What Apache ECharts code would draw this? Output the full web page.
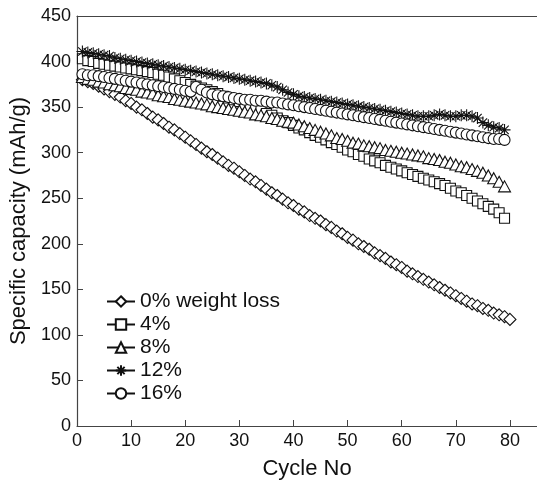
<!DOCTYPE html>
<html>
<head>
<meta charset="utf-8">
<script src="https://cdn.jsdelivr.net/npm/echarts@6/dist/echarts.min.js"></script>
<style>
  html, body { margin: 0; padding: 0; background: #fff; }
  #chart { width: 537px; height: 485px; }
</style>
</head>
<body>
<div id="chart"></div>
<script>
// cycle numbers
var cycles = [1, 2, 3, 4, 5, 6, 7, 8, 9, 10,
    11, 12, 13, 14, 15, 16, 17, 18, 19, 20,
    21, 22, 23, 24, 25, 26, 27, 28, 29, 30,
    31, 32, 33, 34, 35, 36, 37, 38, 39, 40,
    41, 42, 43, 44, 45, 46, 47, 48, 49, 50,
    51, 52, 53, 54, 55, 56, 57, 58, 59, 60,
    61, 62, 63, 64, 65, 66, 67, 68, 69, 70,
    71, 72, 73, 74, 75, 76, 77, 78, 79, 80];

// specific capacity (mAh/g)
var loss0 = [380, 378, 376, 373, 370, 367, 364, 361, 357, 354,
    350, 347, 343, 339, 336, 332, 328, 325, 321, 317,
    313, 309, 305, 301, 298, 294, 290, 286, 283, 279,
    275, 271, 268, 264, 260, 256, 253, 249, 245, 242,
    238, 235, 231, 228, 225, 221, 218, 214, 211, 207,
    204, 200, 197, 194, 190, 187, 184, 180, 177, 174,
    170, 167, 164, 161, 158, 155, 152, 149, 146, 143,
    140, 137, 134, 132, 129, 127, 124, 122, 120, 117];
var loss4 = [403, 401, 400, 398, 397, 396, 395, 394, 393, 392,
    391, 390, 389, 388, 386, 385, 383, 381, 379, 377,
    375, 373, 371, 369, 367, 365, 362, 360, 358, 356,
    353, 351, 349, 346, 343, 341, 338, 335, 333, 330,
    327, 325, 322, 319, 317, 314, 311, 309, 306, 303,
    301, 298, 296, 293, 291, 289, 286, 284, 282, 280,
    278, 276, 274, 272, 270, 268, 266, 264, 261, 258,
    256, 253, 250, 247, 244, 241, 238, 234, 228];
var loss8 = [383, 381, 380, 378, 377, 375, 374, 373, 371, 370,
    369, 367, 366, 365, 363, 362, 361, 359, 358, 357,
    356, 355, 354, 353, 351, 350, 349, 348, 347, 346,
    345, 344, 342, 341, 340, 338, 337, 335, 334, 333,
    331, 329, 327, 325, 323, 321, 319, 316, 315, 313,
    311, 310, 308, 307, 306, 305, 303, 302, 301, 300,
    299, 298, 297, 296, 294, 293, 292, 290, 289, 287,
    285, 284, 282, 280, 278, 275, 272, 268, 263];
var loss12 = [411, 410, 409, 408, 407, 406, 404, 403, 402, 401,
    400, 399, 398, 397, 396, 395, 394, 393, 392, 391,
    390, 389, 388, 387, 386, 385, 384, 383, 382, 381,
    380, 379, 378, 377, 376, 374, 372, 369, 366, 364,
    362, 361, 360, 359, 358, 357, 356, 355, 354, 353,
    352, 351, 350, 349, 348, 347, 346, 345, 344, 343,
    342, 341, 340, 340, 340, 341, 342, 341, 340, 340,
    341, 341, 340, 338, 333, 330, 328, 327, 325];
var loss16 = [386, 385, 385, 384, 383, 382, 381, 380, 379, 378,
    377, 376, 375, 374, 373, 372, 371, 370, 369, 368,
    367, 372, 369, 366, 364, 363, 362, 361, 360, 359,
    358, 358, 357, 357, 356, 355, 355, 354, 353, 352,
    351, 350, 349, 348, 347, 346, 345, 344, 343, 342,
    341, 340, 339, 338, 337, 336, 335, 334, 333, 332,
    331, 330, 329, 328, 327, 326, 325, 324, 323, 322,
    321, 320, 319, 318, 317, 316, 315, 315, 314];

var names = ['0% weight loss', '4%', '8%', '12%', '16%'];
var xTicks = [0, 10, 20, 30, 40, 50, 60, 70, 80];
var yTicks = [0, 50, 100, 150, 200, 250, 300, 350, 400, 450];

var FONT = 'Liberation Sans, Arial, Helvetica, sans-serif';
var asterisk = 'path://M0,5L10,5M5,0L5,10M1.5,1.5L8.5,8.5M8.5,1.5L1.5,8.5';

function pairs(vals) {
    var out = [];
    for (var i = 0; i < vals.length; i++) {
        out.push([cycles[i], vals[i]]);
    }
    return out;
}

function mkSeries(name, vals, symbol, size) {
    return {
        name: name,
        type: 'line',
        data: pairs(vals),
        symbol: symbol,
        symbolSize: size,
        showAllSymbol: true,
        lineStyle: { color: '#111', width: 1 },
        itemStyle: { color: '#fff', borderColor: '#111', borderWidth: 1.1 },
        emphasis: { disabled: true }
    };
}

var myChart = echarts.init(document.getElementById('chart'), null, { renderer: 'canvas' });
myChart.setOption({
    animation: false,
    backgroundColor: '#fff',
    textStyle: { fontFamily: FONT },
    grid: { left: 77, right: -4, top: 16, bottom: 54, containLabel: false },
    legend: {
        orient: 'vertical',
        left: 101,
        top: 285,
        itemWidth: 28,
        itemHeight: 13,
        itemGap: 0,
        textStyle: { fontFamily: FONT, fontSize: 21, lineHeight: 23, color: '#111' },
        data: names
    },
    xAxis: [{
        type: 'value',
        min: 0,
        max: 85,
        interval: 10,
        name: 'Cycle No',
        nameLocation: 'middle',
        nameGap: 32,
        nameTextStyle: { fontFamily: FONT, fontSize: 22, color: '#111' },
        axisLine: { show: true, lineStyle: { color: '#444', width: 1.2 } },
        axisTick: { show: true, inside: true, length: 6, lineStyle: { color: '#444' } },
        axisLabel: {
            fontFamily: FONT, fontSize: 18, color: '#111', margin: 6,
            showMaxLabel: false,
            formatter: function (v) { return xTicks.indexOf(v) >= 0 ? String(v) : ''; }
        },
        splitLine: { show: false }
    }, {
        type: 'value',
        position: 'top',
        min: 0,
        max: 85,
        axisLine: { show: true, onZero: false, lineStyle: { color: '#444', width: 1.2 } },
        axisTick: { show: false },
        axisLabel: { show: false },
        splitLine: { show: false }
    }],
    yAxis: {
        type: 'value',
        min: 0,
        max: 450,
        interval: 50,
        name: 'Specific capacity (mAh/g)',
        nameLocation: 'middle',
        nameGap: 46,
        nameTextStyle: { fontFamily: FONT, fontSize: 22, color: '#111' },
        axisLine: { show: true, lineStyle: { color: '#444', width: 1.2 } },
        axisTick: { show: true, inside: true, length: 6, lineStyle: { color: '#444' } },
        axisLabel: {
            fontFamily: FONT, fontSize: 18, color: '#111', margin: 6,
            formatter: function (v) { return yTicks.indexOf(v) >= 0 ? String(v) : ''; }
        },
        splitLine: { show: false }
    },
    series: [
        mkSeries(names[0], loss0, 'diamond', [12, 12]),
        mkSeries(names[1], loss4, 'rect', [10, 10]),
        mkSeries(names[2], loss8, 'triangle', [12, 11]),
        mkSeries(names[3], loss12, asterisk, [12, 12]),
        mkSeries(names[4], loss16, 'circle', [11, 11])
    ]
});
</script>
</body>
</html>
